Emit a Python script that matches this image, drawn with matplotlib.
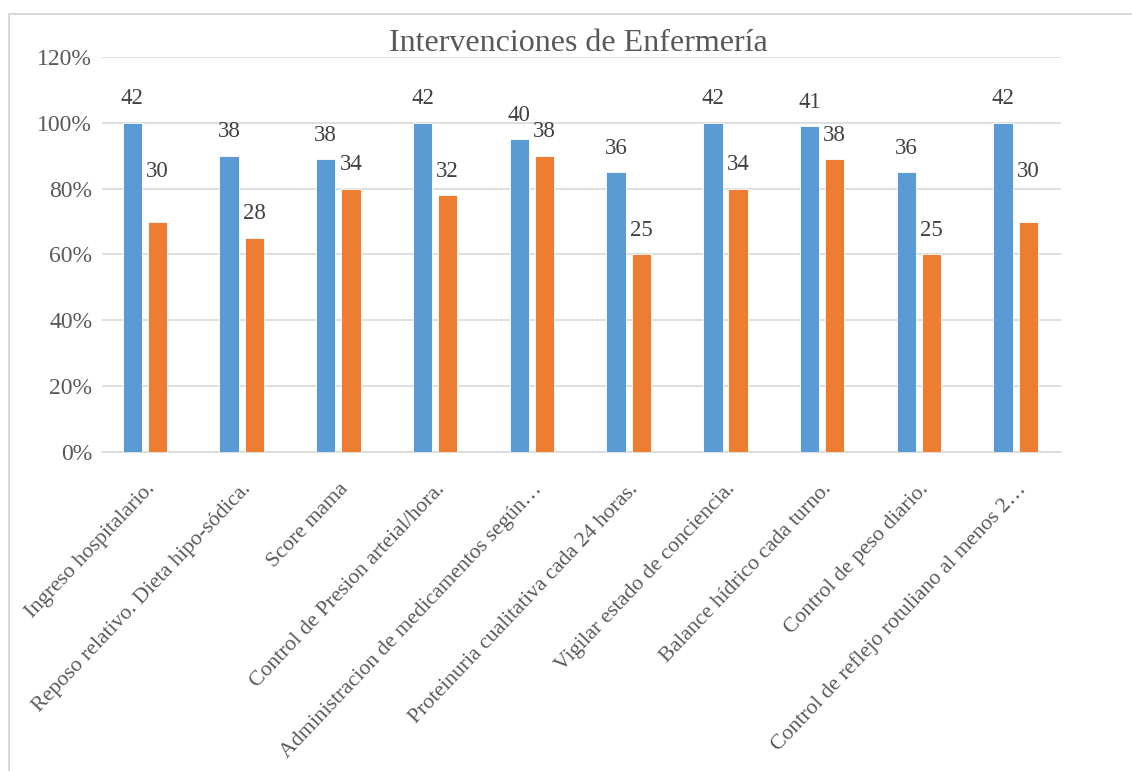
import numpy as np
import matplotlib
matplotlib.use('Agg')
from matplotlib import pyplot as plt
from matplotlib.lines import Line2D
from matplotlib.ticker import FuncFormatter
from matplotlib.transforms import ScaledTranslation

plt.rcParams['font.family'] = ['Liberation Serif', 'DejaVu Serif']

categorias = ['Ingreso hospitalario.',
              'Reposo relativo. Dieta hipo-sódica.',
              'Score mama',
              'Control de Presion arteial/hora.',
              'Administracion de medicamentos según…',
              'Proteinuria cualitativa cada 24 horas.',
              'Vigilar estado de conciencia.',
              'Balance hídrico cada turno.',
              'Control de peso diario.',
              'Control de reflejo rotuliano al menos 2…']

# porcentajes (altura de las barras)
pct_azul = [100, 90, 89, 100, 95, 85, 100, 99, 85, 100]
pct_naranja = [70, 65, 80, 78, 90, 60, 80, 89, 60, 70]
# etiquetas (numero de casos)
n_azul = [42, 38, 38, 42, 40, 36, 42, 41, 36, 42]
n_naranja = [30, 28, 34, 32, 38, 25, 34, 38, 25, 30]

gris = '#595959'
azul = '#5B9BD5'
naranja = '#ED7D31'

fig = plt.figure(figsize=(11.32, 7.71), dpi=100)
ax = fig.add_axes([0.090, 0.414, 0.847, 0.512])

x = np.arange(len(categorias))
w = 0.2
b1 = ax.bar(x - 0.13, pct_azul, width=w, color=azul, edgecolor='white', linewidth=0.6, zorder=3)
b2 = ax.bar(x + 0.13, pct_naranja, width=w, color=naranja, edgecolor='white', linewidth=0.6, zorder=3)

# etiquetas de datos
extra = {0: 26, 9: 26}
for i, r in enumerate(b1):
    ax.annotate(str(n_azul[i]), (r.get_x() + r.get_width() / 2, r.get_height()),
                xytext=(0, 24), textcoords='offset pixels', ha='center', va='center',
                fontsize=16.5, color='#404040')
for i, r in enumerate(b2):
    ax.annotate(str(n_naranja[i]), (r.get_x() + r.get_width() / 2, r.get_height()),
                xytext=(0, 24 + extra.get(i, 0)), textcoords='offset pixels', ha='center', va='center',
                fontsize=16.5, color='#404040')

ax.set_ylim(0, 120)
ax.set_xlim(-0.444, len(categorias) - 0.535)
ax.set_yticks(np.arange(0, 121, 20))
ax.yaxis.set_major_formatter(FuncFormatter(lambda v, p: '%d%%' % v))
ax.grid(axis='y', color='#D9D9D9', linewidth=1.2, zorder=0)
ax.set_xticks(x)
ax.set_xticklabels(categorias, rotation=46.5, ha='right', rotation_mode='anchor', fontsize=15.7, color=gris)
desplaza = ScaledTranslation(10 / 100, 0, fig.dpi_scale_trans)
for lbl in ax.get_xticklabels():
    lbl.set_transform(lbl.get_transform() + desplaza)
ax.tick_params(axis='y', labelsize=17, colors=gris, length=0, pad=7)
ax.tick_params(axis='x', length=0, pad=20)
for s in ['top', 'right', 'left']:
    ax.spines[s].set_visible(False)
ax.spines['bottom'].set_color('#D9D9D9')
ax.spines['bottom'].set_linewidth(1.2)

fig.text(0.511, 0.943, 'Intervenciones de Enfermería', ha='center', va='center', fontsize=23, color=gris)

# marco del grafico (solo arriba e izquierda visibles)
x0 = 8.5 / 1132
y0 = 1 - 14 / 771
fig.lines.append(Line2D([x0, x0, 1.0], [0.0, y0, y0], transform=fig.transFigure,
                        color='#D9D9D9', linewidth=1.5))

fig.savefig('out.png', dpi=100)
